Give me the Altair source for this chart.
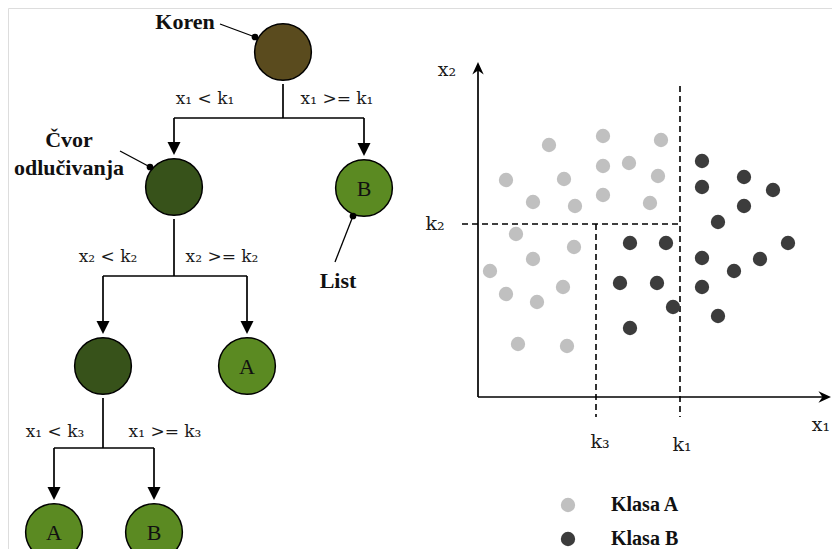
import altair as alt
import pandas as pd

# ---------------- data ----------------
# decision tree: node id, kind, leaf label, parent
node_id = ["root", "n1", "leafB1", "n2", "leafA1", "leafA2", "leafB2"]
node_kind = ["Koren", "Čvor", "List", "Čvor", "List", "List", "List"]
node_text = ["", "", "B", "", "A", "A", "B"]
node_parent = [None, "root", "root", "n1", "n1", "n2", "n2"]

# split conditions (left branch, right branch) for each internal node
split_parent = ["root", "root", "n1", "n1", "n2", "n2"]
split_text = ["x₁ < k₁", "x₁ >= k₁", "x₂ < k₂", "x₂ >= k₂", "x₁ < k₃", "x₁ >= k₃"]

# scatter points (x1, x2) in feature units
classA_x1 = [71, 125, 183, 28, 86, 125, 151, 180, 55, 97, 125, 172, 38, 96, 55, 12, 28, 85, 59, 40, 89]
classA_x2 = [252, 261, 257, 217, 218, 231, 234, 221, 195, 191, 202, 194, 163, 150, 138, 126, 103, 110, 95, 53, 51]
classB_x1 = [152, 188, 142, 179, 195, 152, 224, 224, 266, 295, 266, 240, 310, 224, 282, 256, 224, 240]
classB_x2 = [154, 154, 114, 114, 90, 69, 236, 210, 220, 207, 191, 175, 154, 139, 138, 126, 110, 81]

# thresholds (feature units)
k1, k2, k3 = 202, 173, 118
class_names = ["Klasa A", "Klasa B"]

# ---------------- layout (canvas units = page pixels) ----------------
node_cx = [283, 174, 364, 103, 247, 54, 154]
node_cy = [52, 187, 188, 366, 366, 532, 532]
R = 32
bar_y = {"root": 118, "n1": 276, "n2": 448}
split_lx = [205, 337, 108, 222, 55, 165]
split_ly = [99, 99, 257, 257, 432, 432]
X0, Y0 = 478, 397          # scatter origin
XMAX, YMAX = 353, 334      # axis lengths

KIND_COL = {"Koren": "#5a4b1e", "Čvor": "#37521a", "List": "#5b8a22"}
CLS_COL = {"Klasa A": "#c0c0c0", "Klasa B": "#3c3c3c"}

W, H = 824, 541
xs = alt.Scale(domain=[8, 8 + W], nice=False, zero=False)
ys = alt.Scale(domain=[8, 8 + H], nice=False, zero=False, reverse=True)


def enc(**kw):
    out = {}
    for k, v in kw.items():
        if k == "x":
            out[k] = alt.X(v, type="quantitative", scale=xs, axis=None)
        elif k == "y":
            out[k] = alt.Y(v, type="quantitative", scale=ys, axis=None)
        elif k == "x2":
            out[k] = alt.X2(v)
        elif k == "y2":
            out[k] = alt.Y2(v)
        else:
            out[k] = v
    return out


nodes = pd.DataFrame({"id": node_id, "kind": node_kind, "text": node_text,
                      "parent": node_parent, "cx": node_cx, "cy": node_cy})
nodes["fillc"] = nodes.kind.map(KIND_COL)
pos = {r.id: (r.cx, r.cy) for r in nodes.itertuples()}

# tree edges
seg = []
tips = []
for p, by in bar_y.items():
    px, py = pos[p]
    kids = nodes[nodes.parent == p]
    seg.append(dict(x=px, y=py + R, x2=px, y2=by))
    seg.append(dict(x=kids.cx.min(), y=by, x2=kids.cx.max(), y2=by))
    for k in kids.itertuples():
        seg.append(dict(x=k.cx, y=by, x2=k.cx, y2=k.cy - R - 6))
        tips.append(dict(x=k.cx, y=k.cy - R))

# annotation pointers (text -> dot on circle)
ann_text = pd.DataFrame({"t": ["Koren", "Čvor", "odlučivanja", "List"],
                         "x": [185, 69, 69, 338], "y": [22, 140, 168, 281]})
ptr = pd.DataFrame({"x": [220, 120, 335], "y": [24, 151, 262],
                    "x2": [255, 150, 353], "y2": [37, 167, 216]})
ptr_dot = pd.DataFrame({"x": [255, 150, 353], "y": [37, 167, 216]})

# scatter axes
seg.append(dict(x=X0, y=Y0, x2=X0 + XMAX - 4, y2=Y0))
seg.append(dict(x=X0, y=Y0, x2=X0, y2=Y0 - YMAX + 4))
solid = pd.DataFrame(seg)

dashed = pd.DataFrame([
    dict(x=X0 + k1, y=Y0 - 311, x2=X0 + k1, y2=Y0 + 20),
    dict(x=X0 - 16, y=Y0 - k2, x2=X0 + k1, y2=Y0 - k2),
    dict(x=X0 + k3, y=Y0 - k2, x2=X0 + k3, y2=Y0 + 20),
])

pts = pd.DataFrame({
    "x1": classA_x1 + classB_x1,
    "x2": classA_x2 + classB_x2,
    "cls": [class_names[0]] * len(classA_x1) + [class_names[1]] * len(classB_x1),
})
pts["px"] = X0 + pts.x1
pts["py"] = Y0 - pts.x2
pts["c"] = pts.cls.map(CLS_COL)

axis_lbl = pd.DataFrame({"t": ["x₂", "k₂", "k₃", "k₁", "x₁"],
                         "x": [447, 435, X0 + k3 + 4, X0 + k1 + 2, 821],
                         "y": [70, Y0 - k2, 442, 445, 425]})

legend = pd.DataFrame({"cls": class_names, "x": [568, 568], "y": [505, 539], "tx": [611, 611]})
legend["c"] = legend.cls.map(CLS_COL)

splits = pd.DataFrame({"t": split_text, "x": split_lx, "y": split_ly})

DOWN = "M0,0L-1,-2L1,-2Z"
UP = "M0,0L-1,2.2L0,1.5L1,2.2Z"
RIGHT = "M0,0L-2.2,-1L-1.5,0L-2.2,1Z"

MATH_FONT = "DejaVu Serif"

layers = [
    alt.Chart(solid).mark_rule(color="black", strokeWidth=1.7).encode(**enc(x="x", y="y", x2="x2", y2="y2")),
    alt.Chart(dashed).mark_rule(color="black", strokeWidth=1.6, strokeDash=[6, 4]).encode(**enc(x="x", y="y", x2="x2", y2="y2")),
    alt.Chart(pd.DataFrame(tips)).mark_point(shape=DOWN, filled=True, size=169, color="black", opacity=1, strokeWidth=0).encode(**enc(x="x", y="y")),
    alt.Chart(pd.DataFrame({"x": [X0], "y": [Y0 - YMAX - 1]})).mark_point(shape=UP, filled=True, size=130, color="black", opacity=1, strokeWidth=0).encode(**enc(x="x", y="y")),
    alt.Chart(pd.DataFrame({"x": [X0 + XMAX], "y": [Y0]})).mark_point(shape=RIGHT, filled=True, size=130, color="black", opacity=1, strokeWidth=0).encode(**enc(x="x", y="y")),
    alt.Chart(nodes).mark_circle(size=3.1416 * R * R, stroke="black", strokeWidth=1.5, opacity=1).encode(
        **enc(x="cx", y="cy"), fill=alt.Fill("fillc:N", scale=None)),
    alt.Chart(nodes).mark_text(font="Liberation Serif", fontSize=22, color="#111", baseline="middle", align="center", dy=1).encode(
        **enc(x="cx", y="cy"), text="text:N"),
    alt.Chart(ptr).mark_rule(color="black", strokeWidth=1.3).encode(**enc(x="x", y="y", x2="x2", y2="y2")),
    alt.Chart(ptr_dot).mark_circle(size=45, color="black", opacity=1).encode(**enc(x="x", y="y")),
    alt.Chart(ann_text).mark_text(font="Liberation Serif", fontWeight="bold", fontSize=22, color="#111", baseline="middle", align="center").encode(
        **enc(x="x", y="y"), text="t:N"),
    alt.Chart(splits).mark_text(font=MATH_FONT, fontSize=17, color="#1a1a1a", baseline="middle", align="center").encode(
        **enc(x="x", y="y"), text="t:N"),
    alt.Chart(pts).mark_circle(size=205, opacity=1).encode(
        **enc(x="px", y="py"), color=alt.Color("c:N", scale=None)),
    alt.Chart(axis_lbl).mark_text(font=MATH_FONT, fontSize=19, color="#1a1a1a", baseline="middle", align="center").encode(
        **enc(x="x", y="y"), text="t:N"),
    alt.Chart(legend).mark_circle(size=205, opacity=1).encode(
        **enc(x="x", y="y"), color=alt.Color("c:N", scale=None)),
    alt.Chart(legend).mark_text(font="Liberation Serif", fontWeight="bold", fontSize=20, color="#111", baseline="middle", align="left").encode(
        **enc(x="tx", y="y"), text="cls:N"),
]

chart = alt.layer(*layers).properties(
    width=W, height=H, padding=0, autosize=alt.AutoSizeParams(type="none")
).configure_view(stroke=None, strokeWidth=0, strokeOpacity=0).configure(background="white")

chart.save("out.html", embed_options={"renderer": "svg", "actions": False})
